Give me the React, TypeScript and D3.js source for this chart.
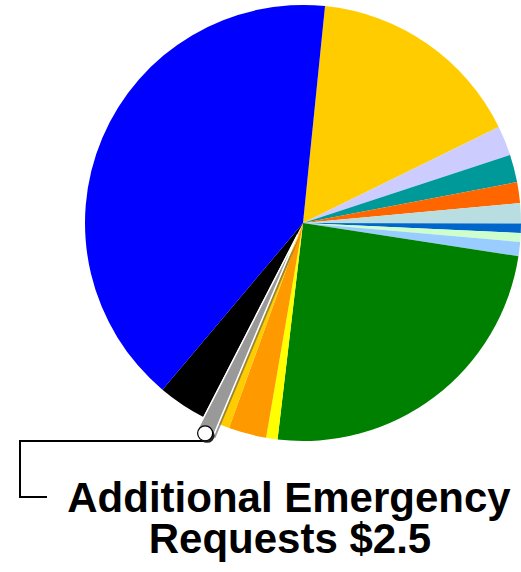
import React from "react";
import * as d3 from "d3";

const categories = [
  "Cat A", "Cat B", "Cat C", "Cat D", "Cat E", "Cat F", "Cat G", "Cat H",
  "Cat I", "Cat J", "Cat K", "Cat L", "Additional Emergency Requests", "Cat N", "Cat O",
];
const values = [32.3, 4.4, 4.1, 3.1, 3.0, 1.4, 1.3, 2.1, 48.9, 1.7, 5.6, 1.6, 2.5, 7.2, 81.0];
const colors = [
  "#FFCC00", "#CCCCFF", "#009999", "#FF6600", "#B8DEE2", "#0066CC", "#CCFFCC", "#99CCFF",
  "#008000", "#FFFF00", "#FF9900", "#FFCC00", "#999999", "#000000", "#0000FF",
];
const highlightIndex = 12;
const labelLines = ["Additional Emergency", "Requests $2.5"];

export default function App() {
  const W = 521, H = 572;
  const cx = 303, cy = 223, r = 218;
  const explode = 13;
  const start = (5.8 * Math.PI) / 180;
  const pie = d3.pie<number>().sort(null).value((d) => d).startAngle(start).endAngle(start + 2 * Math.PI);
  const arcs = pie(values);
  const arc = d3.arc<d3.PieArcDatum<number>>().innerRadius(0).outerRadius(r);
  const hl = arcs[highlightIndex];
  const mid = (hl.startAngle + hl.endAngle) / 2;
  const ox = Math.sin(mid) * explode, oy = -Math.cos(mid) * explode;
  const tipX = Math.sin(mid) * (r + explode + 1), tipY = -Math.cos(mid) * (r + explode + 1);
  const circX = cx + tipX, circY = cy + tipY;
  return (
    <svg width={W} height={H} style={{ position: "absolute", left: 0, top: 0 }}
      fontFamily="'Liberation Sans', Arial, sans-serif">
      <g transform={`translate(${cx},${cy})`}>
        {arcs.map((a, i) =>
          i === highlightIndex ? null : (
            <path key={categories[i]} d={arc(a) || ""} fill={colors[i]} />
          )
        )}
        <g transform={`translate(${ox + 2},${oy + 2})`}>
          <path d={arc(hl) || ""} fill="#555" opacity={0.6} />
        </g>
        <g transform={`translate(${ox},${oy})`}>
          <path d={arc(hl) || ""} fill={colors[highlightIndex]} stroke="#fff" strokeWidth={1.5} />
        </g>
      </g>
      <path d={`M${circX},441 H20 V497 H47`} fill="none" stroke="#000" strokeWidth={2} />
      <circle cx={circX + 2} cy={circY + 2} r={7.5} fill="#222" />
      <circle cx={circX} cy={circY} r={7.5} fill="#fff" stroke="#000" strokeWidth={1.2} />
      <text x={289} y={512} textAnchor="middle" fontSize={42} fontWeight="bold" fill="#000">
        {labelLines[0]}
      </text>
      <text x={290} y={553} textAnchor="middle" fontSize={42} fontWeight="bold" fill="#000">
        {labelLines[1]}
      </text>
    </svg>
  );
}
